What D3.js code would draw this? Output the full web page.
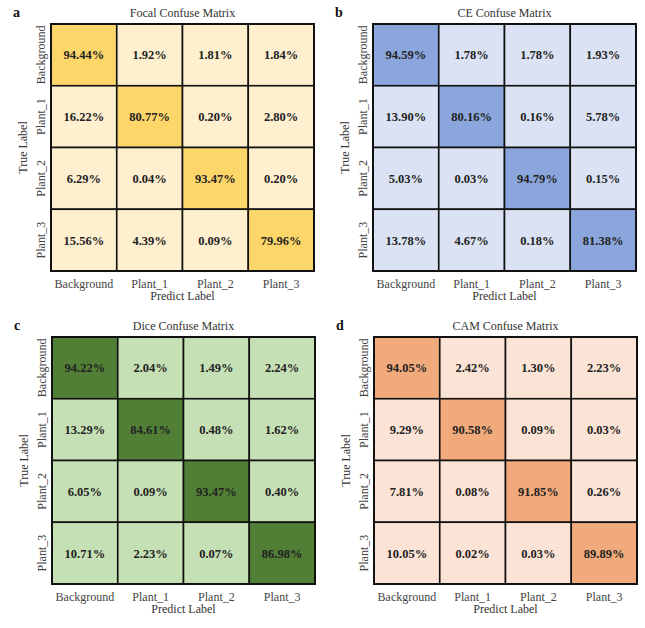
<!DOCTYPE html>
<html>
<head>
<meta charset="utf-8">
<script src="https://cdn.jsdelivr.net/npm/d3@7"></script>
<style>
  body { margin: 0; background: #fff; }
  svg text { font-family: "Liberation Serif", "Times New Roman", serif; fill: #333; }
  .axis path { display: none; }
  .axis text { font-size: 12px; fill: #444; }
  .cell-label { font-size: 12.5px; font-weight: bold; fill: #222; }
</style>
</head>
<body>
<div class="chart"></div>
<script>
(function() {
    var classes = ["Background", "Plant_1", "Plant_2", "Plant_3"];
    var panelLetters = ["a", "b", "c", "d"];
    var titles = ["Focal Confuse Matrix", "CE Confuse Matrix", "Dice Confuse Matrix", "CAM Confuse Matrix"];

    // rows = true label, columns = predicted label (percent)
    var focalValues = [
        [94.44, 1.92, 1.81, 1.84],
        [16.22, 80.77, 0.20, 2.80],
        [6.29, 0.04, 93.47, 0.20],
        [15.56, 4.39, 0.09, 79.96]
    ];
    var ceValues = [
        [94.59, 1.78, 1.78, 1.93],
        [13.90, 80.16, 0.16, 5.78],
        [5.03, 0.03, 94.79, 0.15],
        [13.78, 4.67, 0.18, 81.38]
    ];
    var diceValues = [
        [94.22, 2.04, 1.49, 2.24],
        [13.29, 84.61, 0.48, 1.62],
        [6.05, 0.09, 93.47, 0.40],
        [10.71, 2.23, 0.07, 86.98]
    ];
    var camValues = [
        [94.05, 2.42, 1.30, 2.23],
        [9.29, 90.58, 0.09, 0.03],
        [7.81, 0.08, 91.85, 0.26],
        [10.05, 0.02, 0.03, 89.89]
    ];
    var matrices = [focalValues, ceValues, diceValues, camValues];

    // light / dark colour for each panel
    var palettes = [
        ["#feefcf", "#fdd66a"],
        ["#dae2f3", "#8aa6dc"],
        ["#c6e0b5", "#517f35"],
        ["#fbe3d5", "#f1aa7b"]
    ];

    var widthBase = 645;
    var heightBase = 628;
    var gridW = 263;
    var gridH = 247;
    // top-left corner of each grid
    var origins = [[51, 24], [373, 24], [52, 337], [374, 337]];

    var svg = d3.select(".chart")
        .append("svg")
            .attr("width", widthBase)
            .attr("height", heightBase);

    var x = d3.scaleBand().domain(classes).range([0, gridW]);
    var y = d3.scaleBand().domain(classes).range([0, gridH]);

    matrices.forEach(function(values, p) {
        var color = d3.scaleThreshold().domain([50]).range(palettes[p]);

        var cells = [];
        values.forEach(function(row, i) {
            row.forEach(function(v, j) {
                cells.push({ t: classes[i], p: classes[j], v: v });
            });
        });

        var g = svg.append("g")
            .attr("transform", "translate(" + origins[p][0] + "," + origins[p][1] + ")");

        g.selectAll("rect.cell")
            .data(cells)
            .enter().append("rect")
                .attr("class", "cell")
                .attr("x", function(d) { return x(d.p); })
                .attr("y", function(d) { return y(d.t); })
                .attr("width", x.bandwidth())
                .attr("height", y.bandwidth())
                .attr("fill", function(d) { return color(d.v); })
                .attr("stroke", "#111")
                .attr("stroke-width", 1.6);

        g.selectAll("text.cell-label")
            .data(cells)
            .enter().append("text")
                .attr("class", "cell-label")
                .attr("x", function(d) { return x(d.p) + x.bandwidth() / 2; })
                .attr("y", function(d) { return y(d.t) + y.bandwidth() / 2; })
                .attr("dy", "0.35em")
                .style("text-anchor", "middle")
                .text(function(d) { return d.v.toFixed(2) + "%"; });

        // outer frame
        g.append("rect")
            .attr("width", gridW)
            .attr("height", gridH)
            .attr("fill", "none")
            .attr("stroke", "#111")
            .attr("stroke-width", 2);

        g.append("g")
            .attr("class", "axis")
            .attr("transform", "translate(0," + gridH + ")")
            .call(d3.axisBottom(x).tickSize(0).tickPadding(8));

        // rotated tick labels, baseline facing the grid
        var yAxis = g.append("g")
            .attr("class", "axis")
            .call(d3.axisLeft(y).tickSize(0));
        yAxis.selectAll(".tick text")
            .attr("transform", "rotate(-90)")
            .attr("x", 0)
            .attr("y", -6)
            .attr("dy", "0")
            .style("text-anchor", "middle");

        // axis titles
        g.append("text")
            .attr("x", gridW / 2)
            .attr("y", gridH + 29)
            .style("text-anchor", "middle")
            .style("font-size", "12px")
            .text("Predict Label");

        g.append("text")
            .attr("transform", "rotate(-90)")
            .attr("x", -gridH / 2)
            .attr("y", -24)
            .style("text-anchor", "middle")
            .style("font-size", "12px")
            .text("True Label");

        // panel title
        g.append("text")
            .attr("x", gridW / 2)
            .attr("y", -7)
            .style("text-anchor", "middle")
            .style("font-size", "12px")
            .text(titles[p]);

        // panel letter
        g.append("text")
            .attr("x", -38)
            .attr("y", -7)
            .style("font-size", "14px")
            .style("font-weight", "bold")
            .style("fill", "#111")
            .text(panelLetters[p]);
    });
})();
</script>
</body>
</html>
